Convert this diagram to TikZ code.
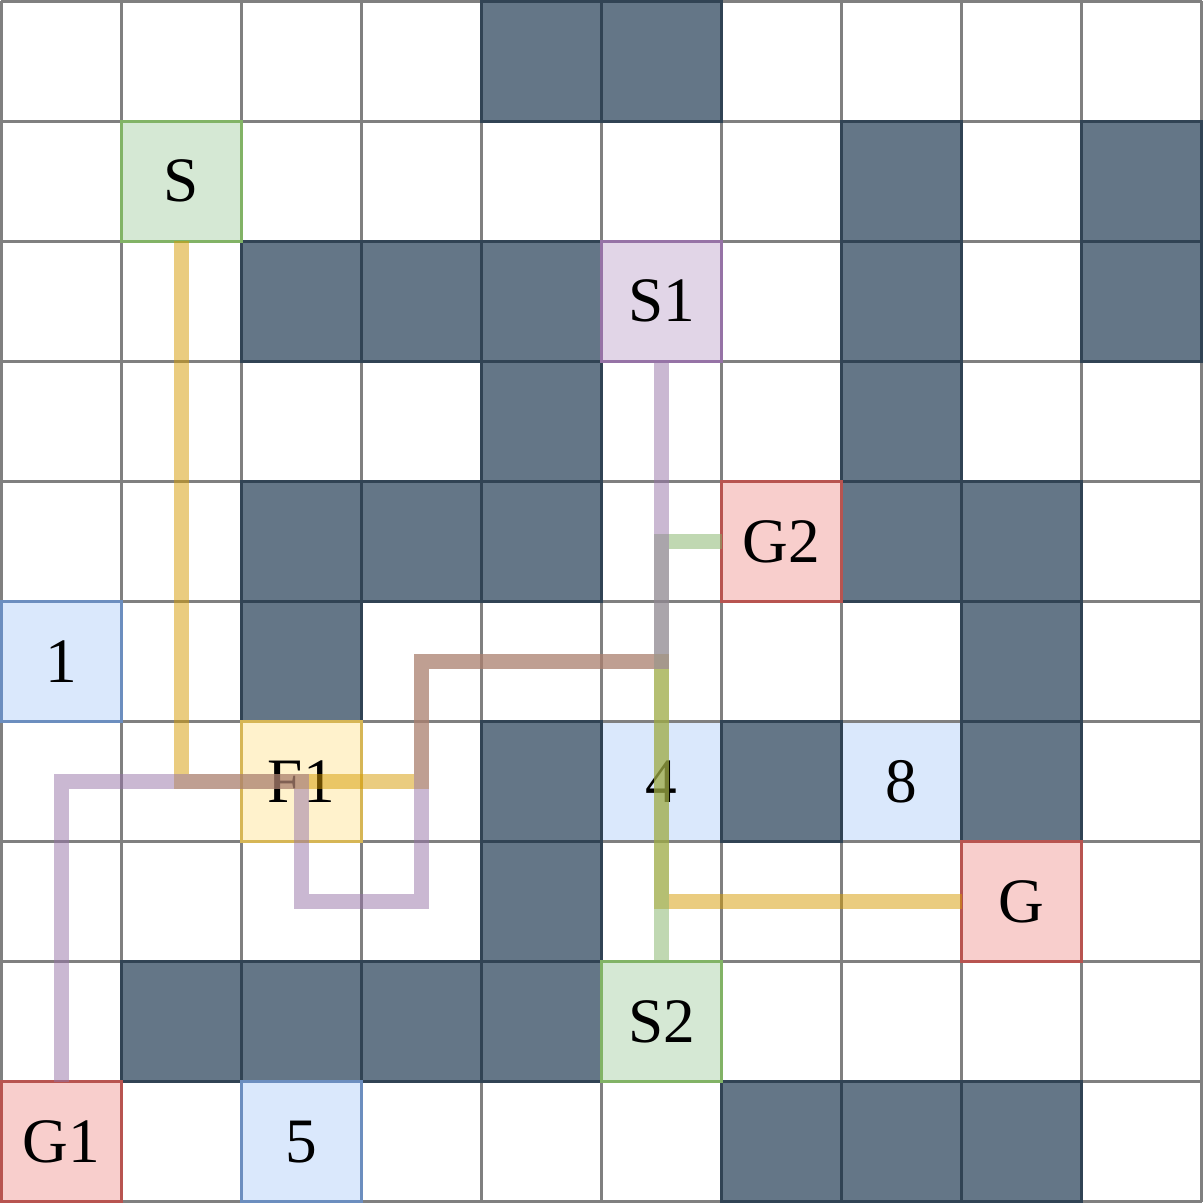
\documentclass[tikz,border=0pt]{standalone}
\usepackage{fontspec}
\setmainfont{Liberation Serif}
\definecolor{darkfill}{HTML}{647687}
\definecolor{darkline}{HTML}{314354}
\definecolor{gfill}{HTML}{D5E8D4}
\definecolor{gline}{HTML}{82B366}
\definecolor{pfill}{HTML}{E1D5E7}
\definecolor{pline}{HTML}{9673A6}
\definecolor{rfill}{HTML}{F8CECC}
\definecolor{rline}{HTML}{B85450}
\definecolor{bfill}{HTML}{DAE8FC}
\definecolor{bline}{HTML}{6C8EBF}
\definecolor{yfill}{HTML}{FFF2CC}
\definecolor{yline}{HTML}{D6B656}
\definecolor{ypath}{HTML}{D79B00}
\definecolor{gridc}{HTML}{808080}
\tikzset{
  cell/.style={minimum size=1cm, inner sep=0pt, outer sep=0pt, line width=0.65pt, font=\fontsize{15}{18}\selectfont},
  wall/.style={cell, fill=darkfill, draw=darkline},
  startcell/.style={cell, fill=gfill, draw=gline},
  s1cell/.style={cell, fill=pfill, draw=pline},
  goalcell/.style={cell, fill=rfill, draw=rline},
  numcell/.style={cell, fill=bfill, draw=bline},
  plaincell/.style={cell, fill=bfill},
  flagcell/.style={cell, fill=yfill, draw=yline},
  gridline/.style={draw=gridc, line width=0.65pt},
  route/.style={line width=3.55pt, draw opacity=0.5, line join=miter, line cap=butt},
}
\begin{document}
\begin{tikzpicture}
\useasboundingbox (-0.01,-0.01) rectangle (10.01,10.01);
\fill[white] (-0.01,-0.01) rectangle (10.01,10.01);
\node[plaincell] (n4) at (5.5,3.5) {4};
\node[plaincell] (n8) at (7.5,3.5) {8};
\draw[gridline] (0,0) grid (10,10);
% walls: row (from top), column
\foreach \r/\c in {0/4,0/5,1/7,1/9,2/2,2/3,2/4,2/7,2/9,3/4,3/7,4/2,4/3,4/4,4/7,4/8,5/2,5/8,6/4,6/6,6/8,7/4,8/1,8/2,8/3,8/4,9/6,9/7,9/8}{
  \node[wall] (w-\r-\c) at (\c+0.5, 9.5-\r) {};
}
\node[startcell] (S)  at (1.5,8.5) {S};
\node[s1cell]    (S1) at (5.5,7.5) {S1};
\node[goalcell]  (G2) at (6.5,5.5) {G2};
\node[numcell]   (n1) at (0.5,4.5) {1};
\node[flagcell]  (F1) at (2.5,3.5) {F1};
\node[goalcell]  (G)  at (8.5,2.5) {G};
\node[startcell] (S2) at (5.5,1.5) {S2};
\node[goalcell]  (G1) at (0.5,0.5) {G1};
\node[numcell]   (n5) at (2.5,0.5) {5};
% routes
\draw[route, draw=ypath] (S.south) -- (1.5,3.5) -- (3.5,3.5) -- (3.5,4.5) -- (5.5,4.5) -- (5.5,2.5) -- (G.west);
\draw[route, draw=gline] (S2.north) -- (5.5,5.5) -- (G2.west);
\draw[route, draw=pline] (G1.north) -- (0.5,3.5) -- (2.5,3.5) -- (2.5,2.5) -- (3.5,2.5) -- (3.5,4.5) -- (5.5,4.5) -- (S1.south);
\end{tikzpicture}
\end{document}
